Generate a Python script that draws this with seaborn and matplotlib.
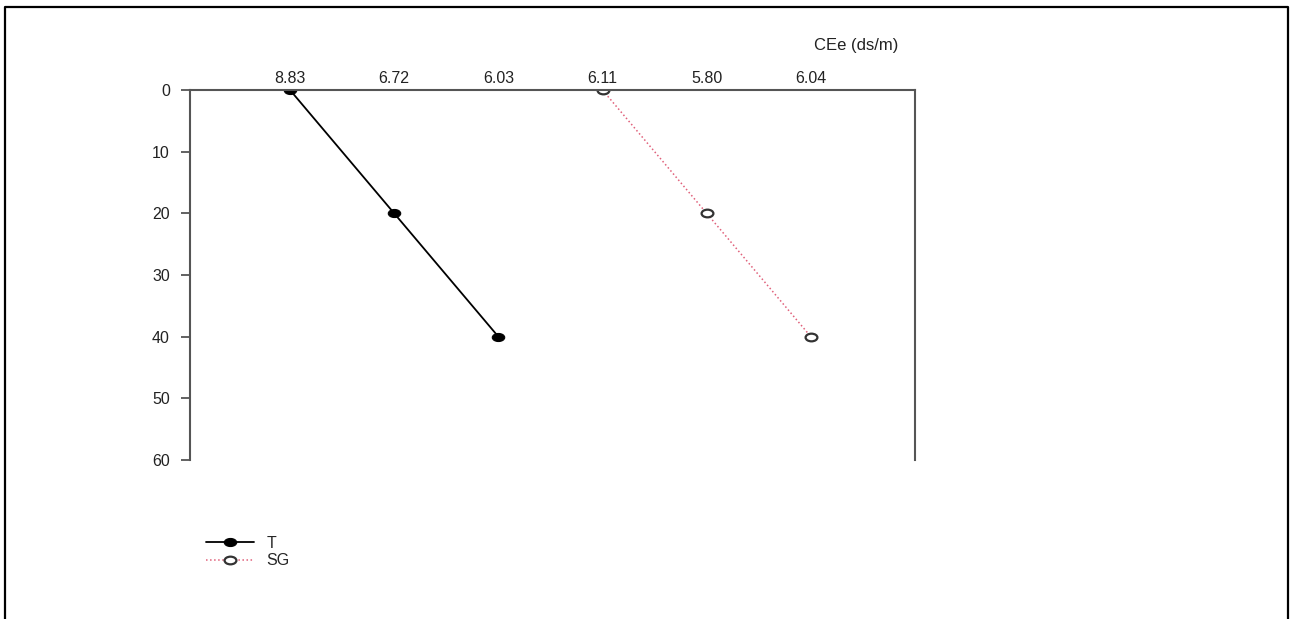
import pandas as pd
import numpy as np
import matplotlib
matplotlib.use('Agg')
import matplotlib.pyplot as plt
import seaborn as sns
from matplotlib.lines import Line2D
from matplotlib.path import Path
from matplotlib.transforms import Affine2D

sns.set_style('white')
plt.rcParams['font.family'] = ['Liberation Sans', 'DejaVu Sans']

# depth (cm) and CEe values per treatment
depth = [0, 20, 40]
t_pos = [1, 2, 3]
sg_pos = [4, 5, 6]
t_cee = ['8.83', '6.72', '6.03']
sg_cee = ['6.11', '5.80', '6.04']

df_t = pd.DataFrame({'pos': t_pos, 'depth': depth})
df_sg = pd.DataFrame({'pos': sg_pos, 'depth': depth})

# the source picture is a bit stretched sideways, so markers are ellipses
oval = Path.unit_circle().transformed(Affine2D().scale(1.0, 0.65))

fig = plt.figure(figsize=(12.9, 6.19), dpi=100)
ax = fig.add_axes([0.1473, 0.2569, 0.562, 0.5977])

sns.lineplot(data=df_t, x='pos', y='depth', ax=ax, color='black', lw=1.3,
             marker=oval, markersize=9, markerfacecolor='black',
             markeredgecolor='black', label='T', sort=False)
sns.lineplot(data=df_sg, x='pos', y='depth', ax=ax, color='#e0607a', lw=1.1,
             linestyle=':', marker=oval, markersize=8.5, markerfacecolor='white',
             markeredgecolor='#333333', markeredgewidth=1.6, label='SG', sort=False)

ax.set_xlim(0.04, 7.0)
ax.set_ylim(60, 0)
ax.xaxis.tick_top()
ax.set_xticks(t_pos + sg_pos)
ax.set_xticklabels(t_cee + sg_cee)
ax.set_yticks(np.arange(0, 61, 10))
ax.tick_params(axis='x', length=0, pad=3, labelsize=11.5, colors='#222222')
ax.tick_params(axis='y', left=True, length=6.5, width=1.3, color='#555555',
               pad=8, labelsize=11.5, labelcolor='#222222')
ax.set_xlabel('')
ax.set_ylabel('')

for side in ['top', 'left', 'right']:
    ax.spines[side].set_visible(True)
    ax.spines[side].set_color('#555555')
    ax.spines[side].set_linewidth(1.5)
ax.spines['bottom'].set_visible(False)

fig.text(0.664, 0.927, 'CEe (ds/m)', fontsize=12, color='#222222', ha='center', va='center')

ax.legend(loc='upper left', bbox_to_anchor=(0.1535, 0.147), bbox_transform=fig.transFigure,
          frameon=False, fontsize=11.5, handlelength=3.0, handletextpad=0.8,
          labelspacing=0.15, borderpad=0)

# outer frame (top, left, right)
fig.add_artist(Line2D([0.0035, 0.0035, 0.9985, 0.9985], [0.0, 0.988, 0.988, 0.0],
                      transform=fig.transFigure, color='black', lw=1.6))

fig.savefig('out.png', dpi=100)
